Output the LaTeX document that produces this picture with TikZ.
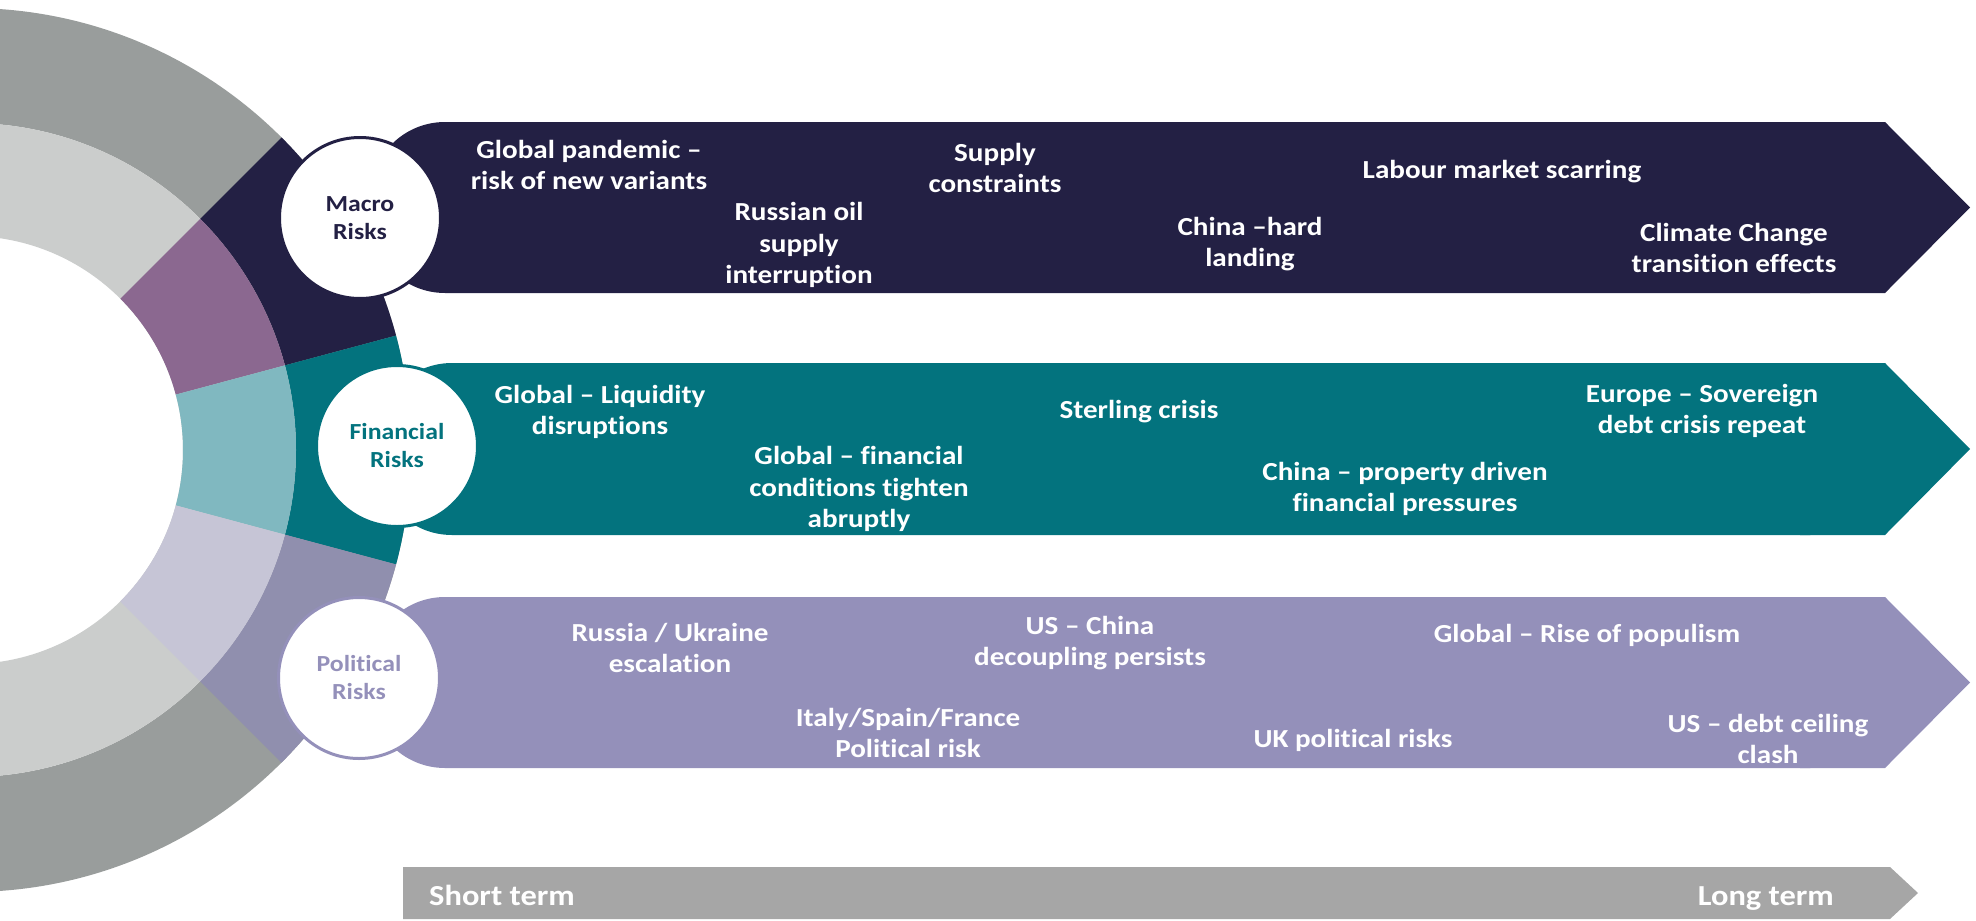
\documentclass[tikz,border=0pt]{standalone}
\usepackage{fontspec}
\setmainfont{Carlito}[FakeStretch=1.12, Ligatures=NoCommon]
\definecolor{ringgray}{HTML}{999D9C}
\definecolor{ringlight}{HTML}{CBCDCC}
\definecolor{ringpurple}{HTML}{8B6890}
\definecolor{ringlteal}{HTML}{80B8C0}
\definecolor{ringllav}{HTML}{C6C5D6}
\definecolor{navyc}{HTML}{232044}
\definecolor{tealc}{HTML}{03737E}
\definecolor{ringlav}{HTML}{908FAE}
\definecolor{lavc}{HTML}{9490BA}
\definecolor{termgray}{HTML}{A6A6A6}
\begin{document}
\begin{tikzpicture}[x=1pt,y=-1pt,
  lbl/.style={text=white, font=\fontsize{26}{31.5}\selectfont\bfseries, align=center, inner sep=0pt},
  circ/.style={circle, fill=white, draw=#1, line width=3pt, minimum size=161pt, inner sep=0pt, text=#1, font=\fontsize{23}{28}\selectfont\bfseries, align=center},
  termlbl/.style={text=white, font=\fontsize{29}{35}\selectfont\bfseries, inner sep=0pt}
]
\useasboundingbox (0,0) rectangle (1976,921);
% ---------- ring ----------
\begin{scope}
\clip (0,0) rectangle (1976,921);
\coordinate (C) at (-31,450);
\fill[ringgray, even odd rule] (C) circle[radius=442] (C) circle[radius=327];
\fill[ringlight, even odd rule] (C) circle[radius=327] (C) circle[radius=214];
% top sector
\begin{scope}
\clip (C) -- (393.3,25.7) -- (548.6,294.7) -- cycle;
\fill[navyc, even odd rule] (C) circle[radius=442] (C) circle[radius=327];
\fill[ringpurple, even odd rule] (C) circle[radius=327] (C) circle[radius=214];
\end{scope}
% middle sector
\begin{scope}
\clip (C) -- (548.6,294.7) -- (548.6,605.3) -- cycle;
\fill[tealc, even odd rule] (C) circle[radius=442] (C) circle[radius=327];
\fill[ringlteal, even odd rule] (C) circle[radius=327] (C) circle[radius=214];
\end{scope}
% bottom sector
\begin{scope}
\clip (C) -- (548.6,605.3) -- (393.3,874.3) -- cycle;
\fill[ringlav, even odd rule] (C) circle[radius=442] (C) circle[radius=327];
\fill[ringllav, even odd rule] (C) circle[radius=327] (C) circle[radius=214];
\end{scope}
\end{scope}
% ---------- bars ----------
\fill[navyc, rounded corners=75] (370,122) rectangle (1885,293);
\fill[navyc] (1800,122) -- (1885,122) -- (1970,207.5) -- (1885,293) -- (1800,293) -- cycle;
\fill[tealc, rounded corners=75] (377,363) rectangle (1885,535);
\fill[tealc] (1800,363) -- (1885,363) -- (1970,449) -- (1885,535) -- (1800,535) -- cycle;
\fill[lavc, rounded corners=75] (370,597) rectangle (1885,768);
\fill[lavc] (1800,597) -- (1885,597) -- (1970,682.5) -- (1885,768) -- (1800,768) -- cycle;
\fill[termgray] (403,867) -- (1890,867) -- (1918,893) -- (1890,919) -- (403,919) -- cycle;
% ---------- circles ----------
\node[circ=navyc] (macro) at (360,218) {Macro\\Risks};
\node[circ=tealc] (fin) at (397,446) {Financial\\Risks};
\node[circ=lavc] (pol) at (359,678) {Political\\Risks};
% ---------- macro labels ----------
\node[lbl] (m1) at (589,165) {Global pandemic –\\risk of new variants};
\node[lbl] (m2) at (799,245) {Russian oil\\supply\\interruption};
\node[lbl] (m3) at (995,168) {Supply\\constraints};
\node[lbl] (m4) at (1250,244) {China –hard\\landing};
\node[lbl, anchor=base] (m5) at (1502,178) {Labour market scarring};
\node[lbl] (m6) at (1734,248) {Climate Change\\transition effects};
% ---------- financial labels ----------
\node[lbl] (f1) at (600,412) {Global – Liquidity\\disruptions};
\node[lbl] (f2) at (859,489) {Global – financial\\conditions tighten\\abruptly};
\node[lbl, anchor=base] (f3) at (1139,418) {Sterling crisis};
\node[lbl] (f4) at (1405,489) {China – property driven\\financial pressures};
\node[lbl] (f5) at (1702,411) {Europe – Sovereign\\debt crisis repeat};
% ---------- political labels ----------
\node[lbl] (p1) at (670,648) {Russia / Ukraine\\escalation};
\node[lbl] (p2) at (1090,643) {US – China\\decoupling persists};
\node[lbl] (p3) at (908,733) {Italy/Spain/France\\Political risk};
\node[lbl, anchor=base] (p4) at (1353,747) {UK political risks};
\node[lbl, anchor=base] (p5) at (1587,642) {Global – Rise of populism};
\node[lbl] (p6) at (1768,739) {US – debt ceiling\\clash};
% ---------- term axis ----------
\node[termlbl, anchor=base west] (short) at (429,905) {Short term};
\node[termlbl, anchor=base east] (long) at (1834,905) {Long term};
\end{tikzpicture}
\end{document}
